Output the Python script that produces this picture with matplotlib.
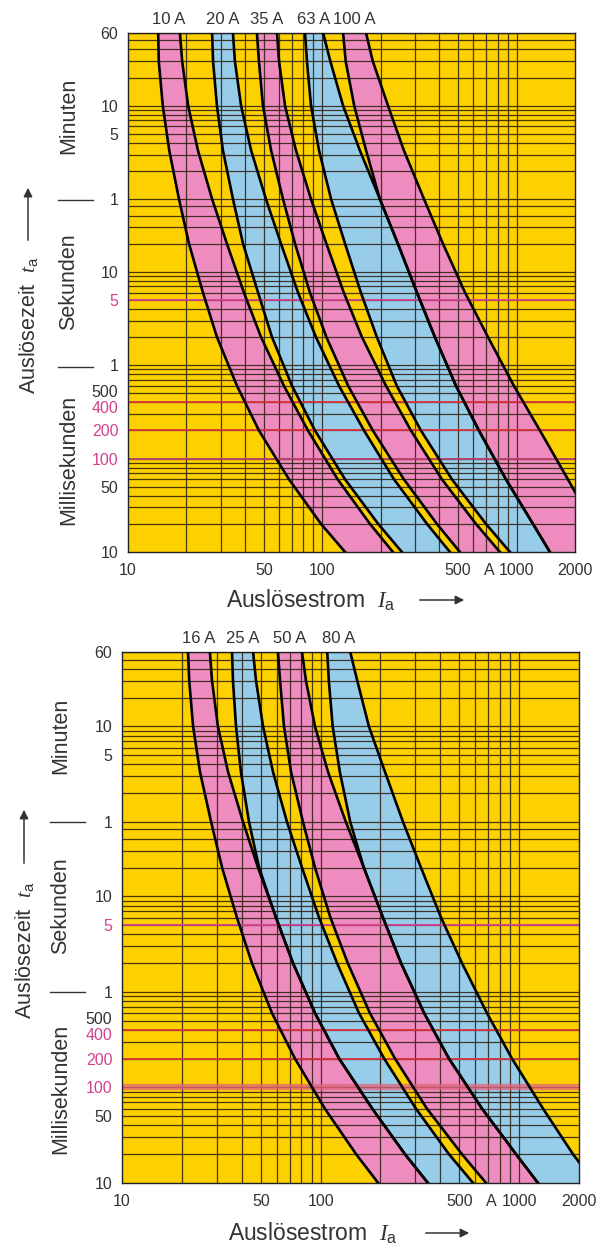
import numpy as np
import matplotlib
matplotlib.use("Agg")
import matplotlib.pyplot as plt
from matplotlib.patches import FancyArrowPatch

plt.rcParams['font.family'] = ['Liberation Sans', 'DejaVu Sans']
plt.rcParams['mathtext.fontset'] = 'custom'
plt.rcParams['mathtext.it'] = 'Liberation Serif:italic'
plt.rcParams['mathtext.rm'] = 'Liberation Sans'

t_lv = [3600, 1800, 600, 200, 60, 20, 6, 2, 0.6, 0.2, 0.06, 0.02, 0.01]

# upper chart: current (A) of the left / right edge of every band
a10_lo = [14.3, 14.4, 15.1, 16.3, 18.3, 20.6, 24.3, 28.7, 36.4, 47.2, 67.4, 98.5, 131]
a10_hi = [18.5, 19.0, 20.4, 22.9, 27.1, 32.3, 39.5, 48.4, 63.5, 84.4, 120, 176, 231]
a20_lo = [27.1, 27.4, 28.7, 30.8, 34.7, 39.1, 46.7, 55.1, 69.9, 91.7, 131, 194, 257]
a20_hi = [34.7, 35.5, 38.2, 43.0, 51.3, 61.3, 75.0, 92.8, 122, 164, 234, 346, 454]
a35_lo = [46.1, 47.2, 49.5, 54.5, 62.8, 72.4, 86.4, 105, 136, 182, 263, 389, 511]
a35_hi = [58.5, 59.9, 64.3, 73.2, 87.5, 105, 129, 160, 213, 286, 413, 618, 821]
a63_lo = [81.5, 83.4, 87.5, 96.2, 111, 131, 158, 191, 242, 322, 465, 696, 925]
a63_hi = [101, 110, 128, 156, 198, 245, 307, 380, 488, 640, 882, 1215, 1485]
a100_lo = [128, 132, 146, 168, 198, 245, 307, 380, 488, 640, 882, 1215, 1485]
a100_hi = [168, 182, 218, 263, 334, 418, 543, 713, 970, 1319, 1839, 2473, 2989]

# lower chart
a16_lo = [21.5, 21.8, 22.8, 24.7, 28.1, 31.9, 37.9, 45.1, 56.9, 74.3, 105, 151, 195]
a16_hi = [27.7, 28.4, 30.4, 34.2, 40.7, 48.4, 59.6, 72.6, 93.7, 124, 182, 266, 347]
a25_lo = [35.8, 36.2, 37.5, 39.7, 43.6, 49.0, 59.6, 72.6, 93.7, 124, 182, 266, 347]
a25_hi = [45.7, 47.3, 51.3, 57.6, 67.7, 80.6, 98.2, 121, 156, 209, 302, 443, 586]
a50_lo = [61.0, 62.5, 65.4, 71.0, 81.5, 93.7, 112, 137, 177, 237, 343, 515, 681]
a50_hi = [80.6, 84.4, 93.7, 109, 134, 165, 206, 254, 332, 443, 650, 964, 1243]
a80_lo = [108, 110, 115, 125, 141, 165, 206, 254, 332, 443, 650, 964, 1243]
a80_hi = [141, 153, 175, 211, 260, 320, 404, 515, 688, 920, 1318, 1866, 2407]

top_names = ["10 A", "20 A", "35 A", "63 A", "100 A"]
bot_names = ["16 A", "25 A", "50 A", "80 A"]

# y tick labels (position in s); 500/400 are nudged apart like in the print
y_pos = [3600, 600, 300, 60, 10, 5, 1, 0.53, 0.36, 0.2, 0.1, 0.05, 0.01]
y_lab = ["60", "10", "5", "1", "10", "5", "1", "500", "400", "200", "100", "50", "10"]
x_pos = [10, 50, 100, 500, 720, 1000, 2000]
x_lab = ["10", "50", "100", "500", "A", "1000", "2000"]

YELLOW = "#fdd000"
PINK = "#ef8cbf"
BLUE = "#98cdea"
MAG = "#d2418f"
RED = "#d9343f"
GRID = "#2a1c0c"
TXT = "#333333"

min_grid = [m * 60 for m in [60, 50, 40, 30, 20, 10, 9, 8, 7, 6, 5, 4, 3, 2, 1]]
sec_grid = [50, 40, 30, 20, 10, 9, 8, 7, 6, 5, 4, 3, 2, 1]
ms_grid = [v / 1000 for v in [900, 800, 700, 600, 500, 400, 300, 200, 100,
                              90, 80, 70, 60, 50, 40, 30, 20]]
i_grid = [20, 30, 40, 50, 60, 70, 80, 90, 100, 200, 300, 400, 500, 600, 700, 800, 900, 1000]


def draw_panel(ax, bands, thick100):
    ax.set_facecolor(YELLOW)
    ax.set_xscale('log')
    ax.set_yscale('log')
    ax.set_xlim(10, 2000)
    ax.set_ylim(0.01, 3600)
    for i, (name, lo, hi) in enumerate(bands):
        col = PINK if i % 2 == 0 else BLUE
        ax.fill_betweenx(t_lv, lo, hi, color=col, lw=0, zorder=1)
    for g in min_grid + sec_grid + ms_grid:
        ax.axhline(g, color=GRID, lw=0.9, alpha=0.85, zorder=2)
    for g in i_grid:
        ax.axvline(g, color=GRID, lw=0.9, alpha=0.85, zorder=2)
    ax.axhline(5, color=MAG, lw=1.3, zorder=2.5)
    ax.axhline(0.4, color=RED, lw=1.3, zorder=2.5)
    ax.axhline(0.2, color=RED, lw=1.3, zorder=2.5)
    if thick100:
        ax.axhline(0.1, color="#e2647c", lw=4.5, alpha=0.75, zorder=2.5)
    else:
        ax.axhline(0.1, color="#b8406f", lw=1.3, zorder=2.5)
    for name, lo, hi in bands:
        ax.plot(lo, t_lv, color="black", lw=1.9, zorder=3, solid_joinstyle='round')
        ax.plot(hi, t_lv, color="black", lw=1.9, zorder=3, solid_joinstyle='round')
        xc = np.sqrt(lo[0] * hi[0])
        ax.text(xc, 1.012, name, transform=ax.get_xaxis_transform(),
                ha='center', va='bottom', fontsize=12, color=TXT)
    ax.set_yticks(y_pos)
    ax.set_yticklabels(y_lab)
    ax.set_xticks(x_pos)
    ax.set_xticklabels(x_lab)
    ax.minorticks_off()
    ax.tick_params(axis='y', length=0, labelsize=11.5, labelcolor=TXT, pad=7)
    ax.tick_params(axis='x', length=0, labelsize=11.5, labelcolor=TXT, pad=8)
    for k, lab in enumerate(ax.get_yticklabels()):
        if k in (5, 8, 9, 10):
            lab.set_color(MAG)
    for s in ax.spines.values():
        s.set_color("#222222")
        s.set_linewidth(1.0)


W, H = 599, 1246
fig = plt.figure(figsize=(W / 100, H / 100), dpi=100)

ax1 = fig.add_axes([128 / W, 1 - 552 / H, 447 / W, 519 / H])
draw_panel(ax1, [(top_names[0], a10_lo, a10_hi), (top_names[1], a20_lo, a20_hi),
                 (top_names[2], a35_lo, a35_hi), (top_names[3], a63_lo, a63_hi),
                 (top_names[4], a100_lo, a100_hi)], False)

ax2 = fig.add_axes([122 / W, 1 - 1183 / H, 457 / W, 531 / H])
draw_panel(ax2, [(bot_names[0], a16_lo, a16_hi), (bot_names[1], a25_lo, a25_hi),
                 (bot_names[2], a50_lo, a50_hi), (bot_names[3], a80_lo, a80_hi)], True)


def arrow(p0, p1):
    fig.add_artist(FancyArrowPatch((p0[0] / W, 1 - p0[1] / H), (p1[0] / W, 1 - p1[1] / H),
                                   transform=fig.transFigure, arrowstyle='-|>',
                                   mutation_scale=13, color=TXT, lw=1.1))


def side_labels(y_min, y_sek, y_ms, x_cat, sep1, sep2, x_sep, x_lab, y_lab, y_arr):
    kw = dict(rotation=90, ha='center', va='center', fontsize=15.5, color=TXT)
    fig.text(x_cat / W, 1 - y_min / H, "Minuten", **kw)
    fig.text(x_cat / W, 1 - y_sek / H, "Sekunden", **kw)
    fig.text(x_cat / W, 1 - y_ms / H, "Millisekunden", **kw)
    for ys in (sep1, sep2):
        fig.add_artist(plt.Line2D([x_sep[0] / W, x_sep[1] / W], [1 - ys / H, 1 - ys / H],
                                  color=TXT, lw=1))
    fig.text(x_lab / W, 1 - y_lab / H, "Auslösezeit  $t_\\mathrm{a}$", **kw)
    arrow((x_lab, y_arr[0]), (x_lab, y_arr[1]))


def bottom_label(x0, y0, xa):
    fig.text(x0 / W, 1 - y0 / H, "Auslösestrom  $I_\\mathrm{a}$", ha='left', va='center',
             fontsize=16.5, color=TXT)
    arrow((xa[0], y0), (xa[1], y0))


side_labels(116, 282, 460, 69, 200, 367, (58, 93), 28, 325, (243, 185))
side_labels(736, 906, 1089, 61, 822, 992, (50, 85), 24, 950, (866, 807))
bottom_label(226, 600, (417, 467))
bottom_label(228, 1233, (423, 472))

fig.savefig("out.png", dpi=100, facecolor="white")
